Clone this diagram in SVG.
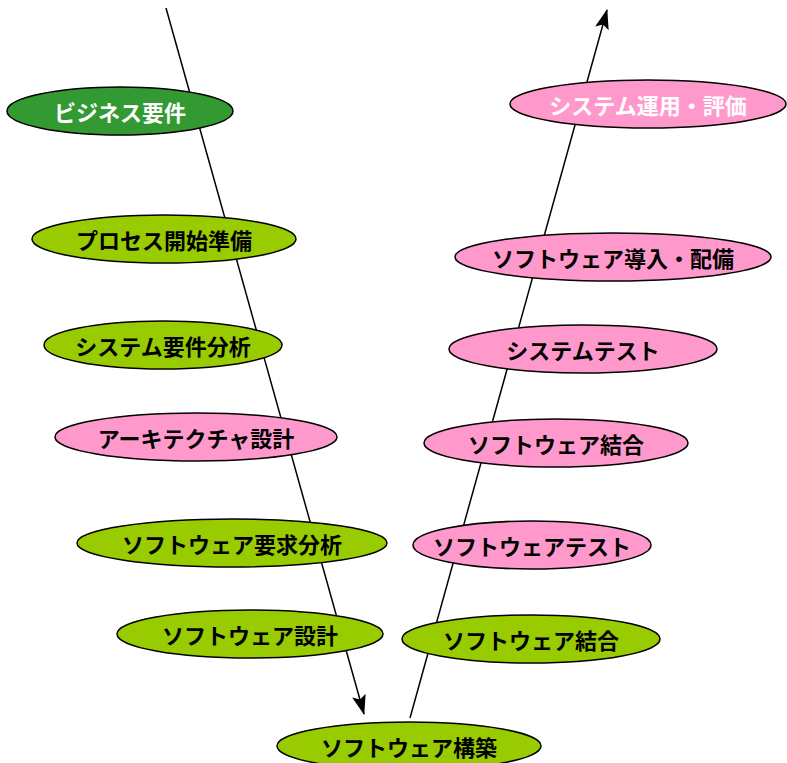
<svg xmlns="http://www.w3.org/2000/svg" width="787" height="763" viewBox="0 0 787 763">
<style>
.e{stroke:#000;stroke-width:1.5}
.dg{fill:#339933}.lg{fill:#99cc00}.pk{fill:#ff99cc}
text{font-family:"Noto Sans CJK JP","Noto Sans CJK SC",sans-serif;font-size:22px;font-weight:bold;text-anchor:middle;dominant-baseline:central;fill:#000}
.w{fill:#fff}
.c{stroke:#000;stroke-width:1.5;fill:none}
</style>
<defs>
<marker id="ah2" viewBox="0 0 20 14" refX="19" refY="7" markerWidth="20" markerHeight="14" markerUnits="userSpaceOnUse" orient="auto"><path d="M0,0 L20,7 L0,14 L4,7 z" fill="#000"/></marker>
</defs>
<g id="connectors">
<line class="c" x1="166" y1="8" x2="364" y2="714" marker-end="url(#ah2)"/>
<line class="c" x1="410" y1="718" x2="607" y2="10" marker-end="url(#ah2)"/>
</g>
<g id="n1"><ellipse class="e dg" cx="120" cy="111" rx="113" ry="24"/><text class="w" x="120" y="111">ビジネス要件</text></g>
<g id="n2"><ellipse class="e lg" cx="164" cy="239" rx="132" ry="24"/><text x="164" y="239">プロセス開始準備</text></g>
<g id="n3"><ellipse class="e lg" cx="163" cy="345" rx="119" ry="24"/><text x="163" y="345">システム要件分析</text></g>
<g id="n4"><ellipse class="e pk" cx="196" cy="437" rx="141" ry="24"/><text x="196" y="437">アーキテクチャ設計</text></g>
<g id="n5"><ellipse class="e lg" cx="232" cy="543" rx="155" ry="24"/><text x="232" y="543">ソフトウェア要求分析</text></g>
<g id="n6"><ellipse class="e lg" cx="250" cy="634" rx="133" ry="24"/><text x="250" y="634">ソフトウェア設計</text></g>
<g id="n7"><ellipse class="e lg" cx="409" cy="746" rx="132" ry="24"/><text x="409" y="746">ソフトウェア構築</text></g>
<g id="n8"><ellipse class="e lg" cx="531" cy="639" rx="129" ry="24"/><text x="531" y="639">ソフトウェア結合</text></g>
<g id="n9"><ellipse class="e pk" cx="532" cy="545" rx="119" ry="24"/><text x="532" y="545">ソフトウェアテスト</text></g>
<g id="n10"><ellipse class="e pk" cx="556" cy="443" rx="132" ry="24"/><text x="556" y="443">ソフトウェア結合</text></g>
<g id="n11"><ellipse class="e pk" cx="583" cy="349" rx="134" ry="24"/><text x="583" y="349">システムテスト</text></g>
<g id="n12"><ellipse class="e pk" cx="613" cy="257" rx="158" ry="24"/><text x="613" y="257">ソフトウェア導入・配備</text></g>
<g id="n13"><ellipse class="e pk" cx="648" cy="104" rx="138" ry="24"/><text class="w" x="648" y="104">システム運用・評価</text></g>
</svg>
